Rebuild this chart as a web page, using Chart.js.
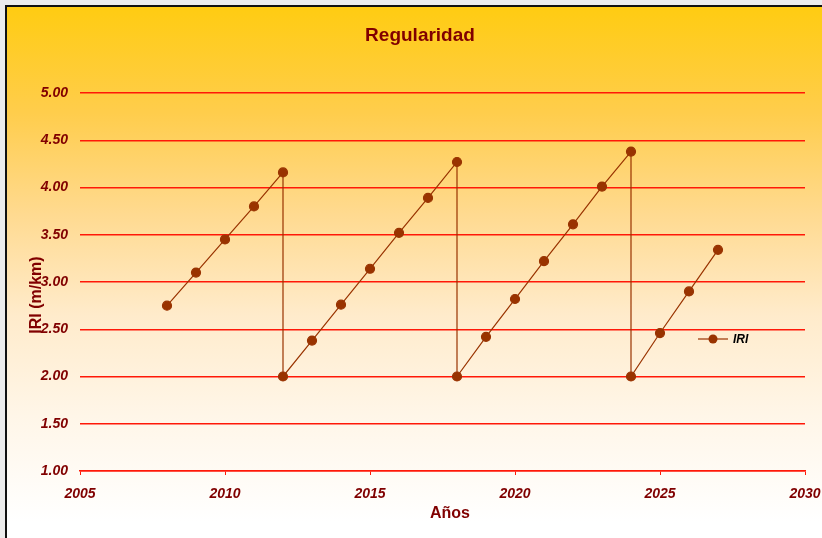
<!DOCTYPE html>
<html>
<head>
<meta charset="utf-8">
<script src="https://cdn.jsdelivr.net/npm/chart.js@4.4.1/dist/chart.umd.min.js"></script>
<style>
  html, body { margin: 0; padding: 0; background: #ececec; overflow: hidden; }
  #frame {
    position: absolute; left: 5px; top: 5px;
    width: 817px; height: 533px;
    border-left: 2px solid #111; border-top: 2px solid #111;
  }
  #chart {
    display: block;
    background: linear-gradient(#ffcc12 0%, #ffcd4c 20%, #ffda90 39%, #ffebcb 58%, #fff6e8 77%, #ffffff 97%);
  }
</style>
</head>
<body>
<div id="frame"><canvas id="chart" width="815" height="531"></canvas></div>
<script>
// IRI per year; the repeated years are the drops back to 2.00 after each overlay
const years = [2008, 2009, 2010, 2011, 2012, 2012, 2013, 2014, 2015, 2016, 2017, 2018, 2018,
               2019, 2020, 2021, 2022, 2023, 2024, 2024, 2025, 2026, 2027];
const iri = [2.75, 3.10, 3.45, 3.80, 4.16, 2.00, 2.38, 2.76, 3.14, 3.52, 3.89, 4.27, 2.00,
             2.42, 2.82, 3.22, 3.61, 4.01, 4.38, 2.00, 2.46, 2.90, 3.34];
const xTicks = [2005, 2010, 2015, 2020, 2025, 2030];
const yTicks = [1.00, 1.50, 2.00, 2.50, 3.00, 3.50, 4.00, 4.50, 5.00];

const darkRed = '#800000';
const brown = '#993300';
const gridRed = '#ff1808';
const tickFont = { family: '"Liberation Sans", Arial, sans-serif', size: 14, style: 'italic', weight: 'bold' };

// titles and the small inline legend
const textPlugin = {
  id: 'texts',
  afterDraw(chart) {
    const c = chart.ctx;
    c.save();
    c.fillStyle = darkRed;
    c.textAlign = 'center';
    c.textBaseline = 'middle';
    c.font = 'bold 19px "Liberation Sans", Arial, sans-serif';
    c.fillText('Regularidad', 413, 29);
    c.font = 'bold 16px "Liberation Sans", Arial, sans-serif';
    c.fillText('Años', 443, 507);
    c.translate(30, 288);
    c.rotate(-Math.PI / 2);
    c.fillText('IRI (m/km)', 0, 0);
    c.restore();

    const ds = chart.data.datasets[0];
    c.save();
    c.strokeStyle = ds.borderColor;
    c.lineWidth = 1.2;
    c.beginPath();
    c.moveTo(691, 332);
    c.lineTo(721, 332);
    c.stroke();
    c.fillStyle = ds.pointBackgroundColor;
    c.beginPath();
    c.arc(706, 332, 4.5, 0, Math.PI * 2);
    c.fill();
    c.fillStyle = '#000';
    c.font = 'italic bold 12px "Liberation Sans", Arial, sans-serif';
    c.textBaseline = 'middle';
    c.fillText(ds.label, 726, 333);
    c.restore();
  }
};

new Chart(document.getElementById('chart'), {
  type: 'scatter',
  data: {
    datasets: [{
      label: 'IRI',
      data: years.map((y, i) => ({ x: y, y: iri[i] })),
      showLine: true,
      borderColor: brown,
      borderWidth: 1.2,
      pointBackgroundColor: brown,
      pointBorderColor: brown,
      pointRadius: 4.5,
      pointHoverRadius: 4.5,
      tension: 0
    }]
  },
  options: {
    responsive: false,
    animation: false,
    events: [],
    layout: { padding: { top: 86, right: 17, left: 0, bottom: 0 } },
    plugins: {
      legend: { display: false },
      title: { display: false },
      tooltip: { enabled: false }
    },
    scales: {
      x: {
        type: 'linear',
        min: 2005,
        max: 2030,
        afterFit: (s) => { s.height = 67; s.paddingLeft = 0; s.paddingRight = 0; },
        afterBuildTicks: (s) => { s.ticks = xTicks.map(v => ({ value: v })); },
        grid: { drawOnChartArea: false, drawTicks: true, tickLength: 4, tickColor: gridRed },
        border: { display: true, color: gridRed, width: 1.5 },
        ticks: {
          color: darkRed,
          padding: 11,
          maxRotation: 0,
          font: tickFont,
          callback: (v) => String(v)
        }
      },
      y: {
        min: 1,
        max: 5,
        afterFit: (s) => { s.width = 73; },
        afterBuildTicks: (s) => { s.ticks = yTicks.map(v => ({ value: v })); },
        grid: { color: gridRed, lineWidth: 1.5, drawTicks: false },
        border: { display: false },
        ticks: {
          color: darkRed,
          padding: 12,
          font: tickFont,
          callback: (v) => Number(v).toFixed(2)
        }
      }
    }
  },
  plugins: [textPlugin]
});
</script>
</body>
</html>
